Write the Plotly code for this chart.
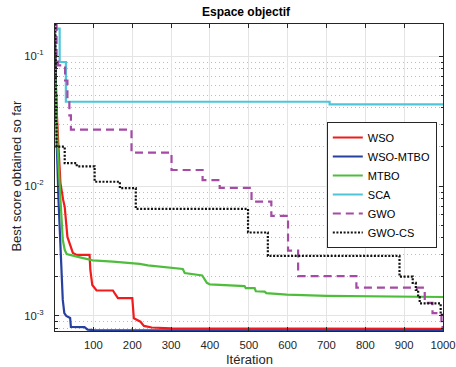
import math
import plotly.graph_objects as go

# ---------------- data ----------------
series_names = ["WSO", "WSO-MTBO", "MTBO", "SCA", "GWO", "GWO-CS"]

wso_iter = [1, 5, 10, 15, 22, 26, 33, 40, 47, 57, 90, 92, 97, 108, 150, 163, 200, 204, 221, 230, 250, 300, 1000]
wso_best = [0.12, 0.04, 0.02, 0.0106, 0.00783, 0.00692, 0.00406, 0.00353, 0.00306, 0.00295, 0.00295, 0.00226,
            0.00173, 0.00157, 0.00157, 0.00137, 0.00137, 0.00096, 0.000903, 0.000838, 0.000815, 0.000803, 0.000795]

wsomtbo_iter = [1, 3, 6, 10, 15, 18, 21, 25, 30, 40, 42, 77, 85, 100, 1000]
wsomtbo_best = [0.15, 0.046, 0.019, 0.0078, 0.00323, 0.00189, 0.00133, 0.00105, 0.00100, 0.000966, 0.000822,
                0.000820, 0.000785, 0.000778, 0.000772]

mtbo_iter = [1, 8, 13, 18, 21, 26, 31, 60, 83, 98, 150, 219, 240, 278, 330, 335, 380, 392, 400, 489, 492,
             515, 518, 541, 545, 598, 700, 1000]
mtbo_best = [0.083, 0.019, 0.0102, 0.00548, 0.00386, 0.00323, 0.00300, 0.00285, 0.00275, 0.00268, 0.00262,
             0.00252, 0.00245, 0.00238, 0.00230, 0.00214, 0.00205, 0.00180, 0.00175, 0.00170, 0.00164,
             0.00164, 0.00155, 0.00154, 0.00150, 0.00146, 0.00143, 0.00140]

sca_iter = [1, 13, 29, 708, 1000]
sca_best = [0.163, 0.0902, 0.0446, 0.0425, 0.0425]

gwo_iter = [1, 5, 9, 27, 33, 38, 42, 198, 301, 381, 425, 507, 558, 601, 627, 777, 953, 973, 996, 1000]
gwo_best = [0.175, 0.10, 0.085, 0.065, 0.045, 0.035, 0.0272, 0.0181, 0.0133, 0.0111, 0.0097, 0.0076, 0.0059,
            0.00319, 0.00203, 0.00165, 0.00126, 0.00105, 0.00082, 0.00082]

gwocs_iter = [1, 2, 3, 4, 5, 26, 57, 103, 168, 209, 498, 549, 888, 922, 930, 936, 940, 994, 1000]
gwocs_best = [0.177, 0.10, 0.05, 0.03, 0.0201, 0.0150, 0.0142, 0.0108, 0.00964, 0.00668, 0.00439, 0.00290,
              0.00201, 0.00180, 0.00159, 0.00140, 0.00125, 0.00102, 0.00102]

x_ticks = [100, 200, 300, 400, 500, 600, 700, 800, 900, 1000]
y_ticks = [1e-3, 1e-2, 1e-1]
y_ticktext = ["10<sup>-3</sup>", "10<sup>-2</sup>", "10<sup>-1</sup>"]
y_minor = [8e-4, 9e-4] + [k * 1e-3 for k in range(2, 10)] + [k * 1e-2 for k in range(2, 10)]

# ---------------- styling ----------------
FONT = "Liberation Sans, Arial, Helvetica, sans-serif"
AX = "#262626"

fig = go.Figure()

specs = [
    (wso_iter, wso_best, "WSO", "#f01c1c", "solid", "linear"),
    (wsomtbo_iter, wsomtbo_best, "WSO-MTBO", "#2741a0", "solid", "linear"),
    (mtbo_iter, mtbo_best, "MTBO", "#4fbd3c", "solid", "linear"),
    (sca_iter, sca_best, "SCA", "#4dc6da", "solid", "hv"),
    (gwo_iter, gwo_best, "GWO", "#a54aa5", "8px,5px", "hv"),
    (gwocs_iter, gwocs_best, "GWO-CS", "#111111", "2px,1.6px", "hv"),
]
for xs, ys, name, color, dash, shape in specs:
    fig.add_trace(go.Scatter(x=xs, y=ys, name=name, mode="lines", hoverinfo="skip",
                             line=dict(color=color, width=2.2, dash=dash, shape=shape)))

fig.update_layout(
    width=456, height=367,
    margin=dict(l=54.5, r=12.5, t=24.3, b=36, autoexpand=False),
    paper_bgcolor="white", plot_bgcolor="white",
    font=dict(family=FONT, color=AX, size=11),
    title=dict(text="<b>Espace objectif</b>", x=246 / 456, xanchor="center", xref="container",
               yref="container", y=1 - 12 / 367, yanchor="middle",
               font=dict(size=12, color="black", family=FONT)),
    showlegend=True,
    legend=dict(x=(327 - 54.5) / 389, y=(331 - 122) / 307, xanchor="left", yanchor="top",
                bgcolor="white", bordercolor=AX, borderwidth=1,
                font=dict(size=11, color="black", family=FONT), itemwidth=30, tracegroupgap=0),
)

fig.update_xaxes(
    range=[1, 1000], tickmode="array", tickvals=x_ticks, automargin=False,
    ticks="inside", ticklen=4, tickcolor=AX, tickwidth=1,
    showline=True, linecolor=AX, linewidth=1, mirror="ticks",
    showgrid=True, gridcolor="#e4e4e4", gridwidth=1, zeroline=False,
    tickfont=dict(size=11.3, color=AX, family=FONT), ticklabelstandoff=3,
)
fig.update_yaxes(
    type="log", range=[math.log10(0.000766), math.log10(0.177)], automargin=False,
    tickmode="array", tickvals=y_ticks, ticktext=y_ticktext,
    ticks="inside", ticklen=4, tickcolor=AX, tickwidth=1,
    showline=True, linecolor=AX, linewidth=1, mirror="ticks",
    showgrid=True, gridcolor="#e4e4e4", gridwidth=1, zeroline=False,
    tickfont=dict(size=11.3, color=AX, family=FONT), ticklabelstandoff=8,
    minor=dict(tickmode="array", tickvals=y_minor, ticks="inside", ticklen=2.5, tickcolor=AX,
               showgrid=True, griddash="1px,3px", gridcolor="#bdbdbd", gridwidth=1),
)

fig.add_annotation(text="Itération", xref="paper", yref="paper", x=(249 - 54.5) / 389,
                   y=(331 - 359) / 307, xanchor="center", yanchor="middle", showarrow=False,
                   font=dict(size=13, color=AX, family=FONT))
fig.add_annotation(text="Best score obtained so far", xref="paper", yref="paper",
                   x=(15 - 54.5) / 389, y=(331 - 176) / 307, xanchor="center", yanchor="middle",
                   textangle=-90, showarrow=False, font=dict(size=13, color=AX, family=FONT))

fig.write_html("out.html", config={"displayModeBar": False, "staticPlot": True},
               post_script="document.body.style.margin='0';document.body.style.overflow='hidden';")
